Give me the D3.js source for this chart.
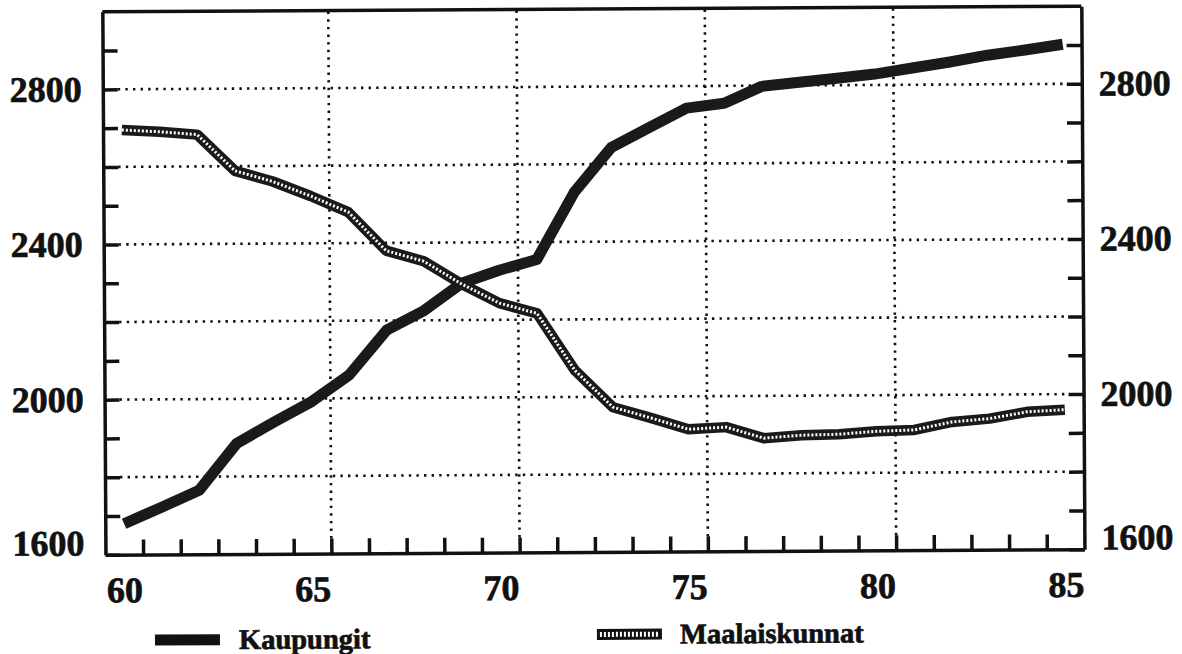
<!DOCTYPE html>
<meta charset="utf-8">
<script src="https://d3js.org/d3.v7.min.js"></script>
<style>
  body { margin: 0; background: #fff; }
  text { font-family: "Liberation Serif", "Times New Roman", serif; font-weight: bold; fill: #111; stroke: #111; stroke-width: 0.7px; }
</style>
<div id="my_dataviz"></div>
<script>

// years on the x axis (categories)
var years = [60, 61, 62, 63, 64, 65, 66, 67, 68, 69, 70, 71, 72,
             73, 74, 75, 76, 77, 78, 79, 80, 81, 82, 83, 84, 85]
var yearLabels = [60, 65, 70, 75, 80, 85]

// series values
var kaupungit = [1680, 1722, 1765, 1885, 1940, 1992, 2060, 2175, 2225, 2295, 2328, 2355, 2527,
                 2643, 2693, 2743, 2755, 2798, 2808, 2818, 2828, 2843, 2858, 2875, 2888, 2902]
var maalaiskunnat = [2695, 2690, 2682, 2588, 2560, 2522, 2480, 2380, 2352, 2293, 2243, 2216, 2068,
                     1973, 1945, 1915, 1920, 1891, 1898, 1900, 1907, 1910, 1930, 1938, 1955, 1960]

// y axis ticks
var yTicks = [1600, 1700, 1800, 1900, 2000, 2100, 2200, 2300, 2400, 2500, 2600, 2700, 2800, 2900]
var yLabels = [1600, 2000, 2400, 2800]
var yGrid = [1800, 2000, 2200, 2400, 2600, 2800]
var xGrid = [65.5, 70.5, 75.5, 80.5]

var width = 1182,
    height = 654
var plotL = 104, plotR = 1083, plotT = 9, plotB = 552

var svg = d3.select("#my_dataviz")
  .append("svg")
    .attr("width", width)
    .attr("height", height)

// the scanned original is a little tilted
var g = svg.append("g")
  .attr("transform", "rotate(-0.33,593,300)")

var x = d3.scaleLinear()
  .domain([years[0] - 0.5, years[years.length - 1] + 0.5])
  .range([plotL, plotR])

var y = d3.scaleLinear()
  .domain([1600, 3000])
  .range([plotB, plotT])

// dotted grid
g.selectAll(".hgrid")
  .data(yGrid)
  .enter()
  .append("line")
    .attr("x1", plotL + 15).attr("x2", plotR - 15)
    .attr("y1", d => y(d)).attr("y2", d => y(d))
    .attr("stroke", "#111").attr("stroke-width", 2.6)
    .attr("stroke-dasharray", "2.4,5.2")

g.selectAll(".vgrid")
  .data(xGrid)
  .enter()
  .append("line")
    .attr("x1", d => x(d)).attr("x2", d => x(d))
    .attr("y1", plotB - 15).attr("y2", plotT)
    .attr("stroke", "#111").attr("stroke-width", 2.6)
    .attr("stroke-dasharray", "2.4,5.2")

// axes
function styleAxis(a, size) {
  a.selectAll("path").attr("stroke", "#111").attr("stroke-width", 3.5)
  a.selectAll("line").attr("stroke", "#111").attr("stroke-width", 3.5)
  a.attr("font-family", null).attr("font-size", size)
  a.selectAll("text").style("font-size", size + "px")
}

var yFmt = function(d) { return yLabels.indexOf(d) >= 0 ? d : "" }

var yLeft = g.append("g")
  .attr("transform", "translate(" + plotL + ",0)")
  .call(d3.axisLeft(y).tickValues(yTicks).tickSize(-15).tickSizeOuter(0).tickPadding(21).tickFormat(yFmt))
styleAxis(yLeft, 36)

var yRight = g.append("g")
  .attr("transform", "translate(" + plotR + ",0)")
  .call(d3.axisRight(y).tickValues(yTicks).tickSize(-15).tickSizeOuter(0).tickPadding(17).tickFormat(yFmt))
styleAxis(yRight, 36)

// the bottom label sits a bit higher than its tick
g.selectAll("text").filter(function() { return this.textContent == "1600" }).attr("dy", "0.0em")

var xTicks = g.append("g")
  .attr("transform", "translate(0," + plotB + ")")
  .call(d3.axisBottom(x).tickValues(years.slice(0, -1).map(d => d + 0.5)).tickSize(-15).tickSizeOuter(0).tickFormat(""))
styleAxis(xTicks, 36)

var xLab = g.append("g")
  .attr("transform", "translate(0," + plotB + ")")
  .call(d3.axisBottom(x).tickValues(yearLabels).tickSize(0).tickPadding(22))
xLab.select(".domain").remove()
styleAxis(xLab, 36)

// top frame
g.append("line")
  .attr("x1", plotL).attr("x2", plotR)
  .attr("y1", plotT).attr("y2", plotT)
  .attr("stroke", "#111").attr("stroke-width", 3.5)

// lines
var line = function(values) {
  return d3.line()
    .x(function(d, i) { return x(years[i]) })
    .y(function(d) { return y(d) })(values)
}

g.append("path")
  .attr("d", line(kaupungit))
  .attr("fill", "none")
  .attr("stroke", "#1a1a1a")
  .attr("stroke-width", 11)
  .attr("stroke-linejoin", "round")

g.append("path")
  .attr("d", line(maalaiskunnat))
  .attr("fill", "none")
  .attr("stroke", "#1a1a1a")
  .attr("stroke-width", 10.5)
  .attr("stroke-linejoin", "round")

g.append("path")
  .attr("d", line(maalaiskunnat))
  .attr("fill", "none")
  .attr("stroke", "#fff")
  .attr("stroke-width", 3)
  .attr("stroke-dasharray", "2,2")

// handmade legend
g.append("rect").attr("x", 153).attr("y", 632).attr("width", 65).attr("height", 11).attr("fill", "#111")
g.append("text").attr("x", 237).attr("y", 647).text("Kaupungit").style("font-size", "28.5px")

g.append("rect").attr("x", 595).attr("y", 629).attr("width", 65).attr("height", 11).attr("fill", "#111")
g.append("line")
  .attr("x1", 598).attr("x2", 657).attr("y1", 634.5).attr("y2", 634.5)
  .attr("stroke", "#fff").attr("stroke-width", 5).attr("stroke-dasharray", "2,2")
g.append("text").attr("x", 678).attr("y", 644).text("Maalaiskunnat").style("font-size", "28.5px")

</script>
